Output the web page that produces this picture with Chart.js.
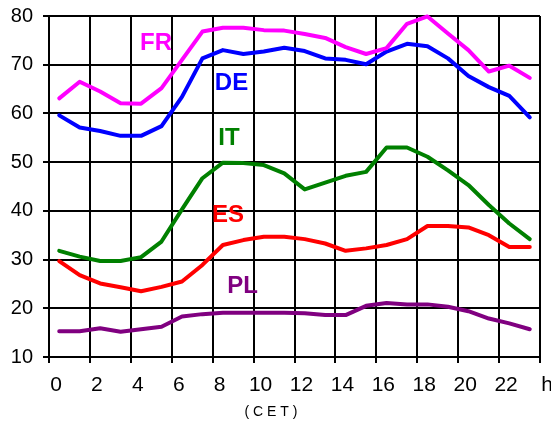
<!DOCTYPE html>
<html>
<head>
<meta charset="utf-8">
<script src="https://cdn.jsdelivr.net/npm/chart.js@4/dist/chart.umd.min.js"></script>
<style>
html,body{margin:0;padding:0;background:#fff;}
#wrap{width:551px;height:423px;position:relative;}
</style>
</head>
<body>
<div id="wrap"><canvas id="c" width="551" height="423"></canvas></div>
<script>
// Hour positions of the data points (centre of each hour, CET)
const hours = [0.5,1.5,2.5,3.5,4.5,5.5,6.5,7.5,8.5,9.5,10.5,11.5,12.5,13.5,14.5,15.5,16.5,17.5,18.5,19.5,20.5,21.5,22.5,23.5];
const xTickValues = [0,2,4,6,8,10,12,14,16,18,20,22,24];
const xTickLabels = ['0','2','4','6','8','10','12','14','16','18','20','22','h'];
const yTickValues = [10,20,30,40,50,60,70,80];
const axisTitle = '( C E T )';

const seriesNames = ['FR','DE','IT','ES','PL'];
const FR = [63.1,66.5,64.5,62.1,62.0,65.2,71.0,76.8,77.6,77.6,77.1,77.0,76.3,75.5,73.6,72.2,73.4,78.4,79.9,76.4,73.0,68.6,69.8,67.3];
const DE = [59.6,57.1,56.4,55.4,55.4,57.4,63.4,71.3,73.0,72.2,72.7,73.5,72.8,71.3,71.0,70.1,72.7,74.3,73.8,71.3,67.7,65.4,63.6,59.2];
const IT = [31.8,30.6,29.7,29.7,30.5,33.7,40.3,46.7,49.9,49.8,49.4,47.7,44.4,45.8,47.2,48.0,53.0,53.0,51.1,48.3,45.3,41.2,37.4,34.2];
const ES = [29.7,26.8,25.1,24.3,23.5,24.4,25.5,28.9,33.0,34.0,34.7,34.7,34.2,33.3,31.8,32.3,33.0,34.2,36.9,36.9,36.6,35.0,32.6,32.6];
const PL = [15.3,15.3,15.9,15.2,15.7,16.2,18.3,18.8,19.1,19.1,19.1,19.1,19.0,18.6,18.6,20.5,21.1,20.8,20.8,20.3,19.4,17.9,16.9,15.7];
// Where each series name is written (in data units: hour, value)
const labelHour  = [5.23, 8.92, 8.80, 8.75, 9.46];
const labelValue = [74.4, 66.1, 54.95, 39.15, 24.4];
const titleHour = 10.85;

const colors = ['#FF00FF','#0000FF','#008000','#FF0000','#800080'];
const seriesValues = [FR, DE, IT, ES, PL];

const datasets = seriesNames.map((n, k) => ({
  label: n,
  data: hours.map((h, i) => ({x: h, y: seriesValues[k][i]})),
  borderColor: colors[k],
  backgroundColor: colors[k],
  borderWidth: 4,
  pointRadius: 0,
  tension: 0,
  clip: false,
  borderJoinStyle: 'round',
  borderCapStyle: 'round'
}));

const textPlugin = {
  id: 'seriesText',
  afterDatasetsDraw(chart) {
    const ctx = chart.ctx, xs = chart.scales.x, ys = chart.scales.y;
    ctx.save();
    ctx.textAlign = 'center';
    ctx.textBaseline = 'middle';
    ctx.font = 'bold 24px "Liberation Sans", Arial, sans-serif';
    seriesNames.forEach((n, k) => {
      ctx.fillStyle = colors[k];
      ctx.fillText(n, xs.getPixelForValue(labelHour[k]), ys.getPixelForValue(labelValue[k]));
    });
    ctx.fillStyle = '#000';
    ctx.font = '14px "Liberation Sans", Arial, sans-serif';
    ctx.fillText(axisTitle, xs.getPixelForValue(titleHour), 412);
    ctx.restore();
  }
};

new Chart(document.getElementById('c'), {
  type: 'line',
  data: { datasets },
  options: {
    responsive: false,
    animation: false,
    layout: { padding: { top: 16, right: 11, left: 0, bottom: 0 } },
    plugins: { legend: { display: false }, tooltip: { enabled: false }, title: { display: false } },
    scales: {
      x: {
        type: 'linear',
        min: 0, max: 24,
        afterBuildTicks: (s) => { s.ticks = xTickValues.map(v => ({value: v})); },
        afterFit: (s) => { s.height = 66; s.paddingLeft = 0; s.paddingRight = 0; },
        ticks: {
          autoSkip: false,
          maxRotation: 0,
          color: '#000',
          font: { size: 21, family: '"Liberation Sans", Arial, sans-serif' },
          padding: 10,
          labelOffset: 7,
          callback: (v) => { const i = xTickValues.indexOf(v); return i >= 0 ? xTickLabels[i] : ''; }
        },
        grid: { color: '#000', lineWidth: 2, tickLength: 6, drawTicks: true },
        border: { display: true, color: '#000', width: 2 }
      },
      y: {
        min: 10, max: 80,
        afterBuildTicks: (s) => { s.ticks = yTickValues.map(v => ({value: v})); },
        afterFit: (s) => { s.width = 49; s.paddingTop = 0; s.paddingBottom = 0; },
        ticks: {
          color: '#000',
          font: { size: 20, family: '"Liberation Sans", Arial, sans-serif' },
          padding: 10
        },
        grid: { color: '#000', lineWidth: 2, tickLength: 6, drawTicks: true },
        border: { display: true, color: '#000', width: 2 }
      }
    }
  },
  plugins: [textPlugin]
});
</script>
</body>
</html>
